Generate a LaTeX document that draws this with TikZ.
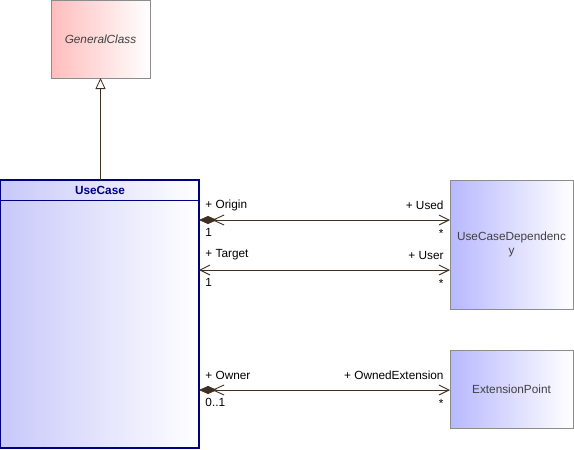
\documentclass[tikz,border=0pt]{standalone}
\usepackage{fontspec}
\setmainfont{Liberation Sans}
\usetikzlibrary{arrows.meta}
\definecolor{lineC}{HTML}{3F3022}
\definecolor{gcRed}{HTML}{FFBDBD}
\definecolor{ucBlue}{HTML}{C8C8FA}
\definecolor{boxBlue}{HTML}{B8B8FF}
\definecolor{navyC}{HTML}{000080}
\definecolor{borderG}{HTML}{8C8C8C}
\definecolor{textG}{HTML}{404040}
\tikzset{
  classbox/.style={draw=borderG, line width=0.8pt, inner sep=0pt, outer sep=0pt, anchor=north west,
    left color=boxBlue, right color=white, shading angle=90, text=textG, align=center},
  assoc/.style={draw=lineC, line width=0.9pt},
  compend/.style={{Diamond[length=18pt,width=8pt,fill=lineC,line width=0.6pt] Straight Barb[length=11pt,width=10pt,line width=0.9pt,sep=-5pt]}-{Straight Barb[length=10pt,width=10pt,line width=0.9pt]}},
  plainend/.style={{Straight Barb[length=10pt,width=10pt,line width=0.9pt]}-{Straight Barb[length=10pt,width=10pt,line width=0.9pt]}},
  rolel/.style={anchor=west, inner sep=0pt, xshift=6pt},
  roler/.style={anchor=east, inner sep=0pt, xshift=-6pt},
}
\begin{document}
\begin{tikzpicture}[x=1pt,y=-1pt,font=\fontsize{11.8}{13.5}\selectfont]
\useasboundingbox[fill=white] (0,0) rectangle (574,450);

% GeneralClass
\node[classbox, left color=gcRed, minimum width=99pt, minimum height=78pt] (gc) at (51,0) {\textit{GeneralClass}};

% UseCase
\node[draw=navyC, line width=1.2pt, inner sep=0pt, outer sep=0pt, anchor=north west,
      left color=ucBlue, right color=white, shading angle=90,
      minimum width=199pt, minimum height=268pt] (uc) at (0,180) {};
\node[text=navyC, font=\fontsize{11.8}{13.5}\selectfont\bfseries] (uct) at (100,190) {UseCase};
\draw[navyC, line width=1pt] ([yshift=-20pt]uc.north west) -- ([yshift=-20pt]uc.north east);

% UseCaseDependency
\node[classbox, minimum width=123pt, minimum height=129pt] (ucd) at (450,180) {UseCaseDependenc\\y};

% ExtensionPoint
\node[classbox, minimum width=123pt, minimum height=78pt] (ep) at (450,350) {ExtensionPoint};

% Generalization
\draw[assoc, -{Triangle[open,length=11pt,width=10pt,line width=0.8pt,fill=white]}] (uc.north -| gc.south) -- (gc.south);

% Origin / Used
\draw[assoc, compend] ([yshift=-40pt]uc.north east) --
  node[pos=0, rolel, yshift=15pt] {+ Origin}
  node[pos=0, rolel, yshift=-12pt] {1}
  node[pos=1, roler, yshift=15pt] {+ Used}
  node[pos=1, roler, yshift=-13pt] {*}
  ([yshift=-40pt]ucd.north west);

% Target / User
\draw[assoc, plainend] ([yshift=-90pt]uc.north east) --
  node[pos=0, rolel, yshift=15pt] {+ Target}
  node[pos=0, rolel, yshift=-12pt] {1}
  node[pos=1, roler, yshift=15pt] {+ User}
  node[pos=1, roler, yshift=-13pt] {*}
  ([yshift=-90pt]ucd.north west);

% Owner / OwnedExtension
\draw[assoc, compend] ([yshift=-210pt]uc.north east) --
  node[pos=0, rolel, yshift=15pt] {+ Owner}
  node[pos=0, rolel, yshift=-12pt] {0..1}
  node[pos=1, roler, yshift=15pt] {+ OwnedExtension}
  node[pos=1, roler, yshift=-13pt] {*}
  ([yshift=-40pt]ep.north west);
\end{tikzpicture}
\end{document}
